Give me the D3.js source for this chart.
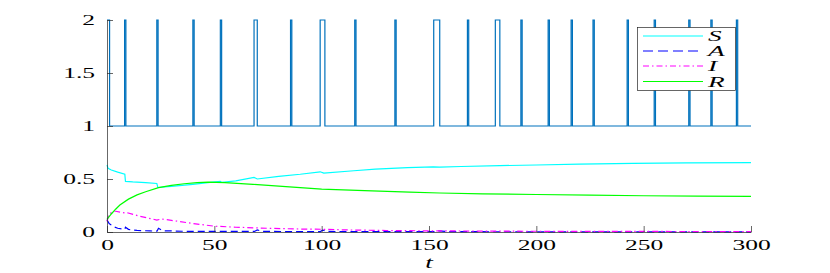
<!DOCTYPE html>
<html><head><meta charset="utf-8">
<script src="https://cdn.jsdelivr.net/npm/d3@7/dist/d3.min.js"></script>
<style>body{margin:0;background:#fff}svg{display:block}</style>
</head><body>
<script>
// ---- data ----
const xTicks = [0, 50, 100, 150, 200, 250, 300];
const yTicks = [0, 0.5, 1, 1.5, 2];
const yTickLabels = ["0", "0.5", "1", "1.5", "2"];
const seriesNames = ["S", "A", "I", "R"];

// switching signal: pulses to 2 between start/end times, otherwise 1
const pulseStart = [0, 8.2, 23.2, 40.0, 52.8, 68.5, 85.5, 99.3, 115.4, 134.1, 152.2, 167.9, 180.9, 192.8, 205.5, 216.2, 226.4, 242.3, 254.9, 271.0, 281.3, 293.2];
const pulseEnd   = [1.2, 8.8, 23.8, 40.6, 53.4, 70.0, 86.1, 101.5, 116.0, 134.7, 155.0, 168.5, 183.0, 193.4, 206.1, 216.8, 227.0, 242.9, 255.5, 271.6, 281.9, 293.8];

const tS = [0, 0.5, 2, 5, 8.3, 8.6, 12, 18, 23.2, 23.7, 30, 40, 48, 52.8, 53.5, 60, 68.5, 70, 80, 90, 99.3, 101, 115, 125, 140, 152, 155, 165, 183, 200, 220, 245, 270, 300];
const vS = [0.632, 0.60, 0.585, 0.565, 0.545, 0.478, 0.472, 0.465, 0.458, 0.42, 0.43, 0.45, 0.468, 0.478, 0.468, 0.482, 0.515, 0.50, 0.525, 0.545, 0.568, 0.555, 0.578, 0.593, 0.607, 0.615, 0.612, 0.618, 0.626, 0.632, 0.64, 0.648, 0.652, 0.654];

const tA = [0, 1, 3, 5, 8.3, 8.6, 10, 14, 20, 23.3, 24, 26, 35, 50, 68.7, 70, 72, 85, 99.4, 100.5, 103, 130, 153, 154, 160, 200, 250, 300];
const vA = [0.115, 0.08, 0.05, 0.035, 0.025, 0.045, 0.025, 0.015, 0.01, 0.008, 0.035, 0.012, 0.007, 0.005, 0.005, 0.02, 0.006, 0.004, 0.004, 0.018, 0.005, 0.003, 0.003, 0.012, 0.003, 0.002, 0.002, 0.002];

const tI = [0, 1, 3.5, 8.3, 8.8, 15, 23.2, 25.5, 30, 40, 50, 60, 75, 90, 100, 110, 130, 150, 180, 220, 260, 300];
const vI = [0.10, 0.17, 0.198, 0.18, 0.185, 0.15, 0.113, 0.123, 0.11, 0.08, 0.055, 0.045, 0.035, 0.028, 0.026, 0.02, 0.014, 0.011, 0.008, 0.006, 0.005, 0.004];

const tR = [0, 2, 4, 6, 10, 14, 18, 24, 30, 36, 42, 47, 55, 68, 85, 100, 120, 141, 155, 175, 200, 225, 250, 275, 300];
const vR = [0.12, 0.17, 0.215, 0.255, 0.31, 0.35, 0.38, 0.418, 0.44, 0.455, 0.465, 0.47, 0.466, 0.45, 0.425, 0.405, 0.39, 0.376, 0.368, 0.36, 0.354, 0.347, 0.342, 0.338, 0.337];

// ---- layout ----
const W = 830, H = 273;
const mLeft = 107, mRight = 751, mTop = 20, mBottom = 232;
const SX = 1.7; // horizontal stretch of text
const axisColor = "#262626";
const font = "'Liberation Serif', 'DejaVu Serif', serif";

const svg = d3.select("body").append("svg").attr("width", W).attr("height", H);
const x = d3.scaleLinear().domain([0, 300]).range([mLeft, mRight]);
const y = d3.scaleLinear().domain([0, 2]).range([mBottom, mTop]);

// switching signal path
const sig = [];
sig.push([0, 2]);
sig.push([pulseEnd[0], 2]);
sig.push([pulseEnd[0], 1]);
for (let i = 1; i < pulseStart.length; i++) {
  sig.push([pulseStart[i], 1]);
  sig.push([pulseStart[i], 2]);
  sig.push([pulseEnd[i], 2]);
  sig.push([pulseEnd[i], 1]);
}
sig.push([300, 1]);
const line = d3.line().x(d => x(d[0])).y(d => y(d[1]));
svg.append("path").attr("d", line(sig)).attr("fill", "none")
  .attr("stroke", "#0072BD").attr("stroke-width", 1.2);

const series = [
  {t: tS, v: vS, color: "#00FFFF", dash: null},
  {t: tA, v: vA, color: "#0000FF", dash: "7,4"},
  {t: tI, v: vI, color: "#FF00FF", dash: "6,3,1.5,3"},
  {t: tR, v: vR, color: "#00FF00", dash: null}
];
series.forEach(s => {
  const pts = s.t.map((t, i) => [t, s.v[i]]);
  const p = svg.append("path").attr("d", line(pts)).attr("fill", "none")
    .attr("stroke", s.color).attr("stroke-width", 1.2);
  if (s.dash) p.attr("stroke-dasharray", s.dash);
});

// axes
const yAxis = d3.axisLeft(y).tickValues(yTicks).tickFormat((d, i) => yTickLabels[i])
  .tickSizeInner(-6).tickSizeOuter(0).tickPadding(12);
const gy = svg.append("g").attr("transform", `translate(${mLeft},0)`).call(yAxis);
const xAxis = d3.axisBottom(x).tickValues(xTicks).tickFormat(d3.format("d"))
  .tickSizeInner(-6).tickSizeOuter(0).tickPadding(7);
const gx = svg.append("g").attr("transform", `translate(0,${mBottom})`).call(xAxis);
[gx, gy].forEach(g => {
  g.select(".domain").attr("stroke", axisColor).attr("stroke-width", 0.7);
  g.selectAll(".tick line").attr("stroke", axisColor).attr("stroke-width", 0.7);
  g.selectAll(".tick text").attr("fill", "#000").style("font-family", font).style("font-size", "15px");
});
gy.selectAll(".tick text").each(function () {
  const t = d3.select(this);
  const xx = +t.attr("x");
  t.attr("x", xx / SX).attr("transform", `scale(${SX},1)`);
});
gx.selectAll(".tick text").attr("transform", `scale(${SX},1)`);

// x label
svg.append("text").attr("transform", `translate(${(mLeft + mRight) / 2},268) scale(${SX},1)`)
  .attr("text-anchor", "middle").style("font-family", font).style("font-style", "italic")
  .style("font-size", "16px").text("t");

// legend
const lg = svg.append("g");
lg.append("rect").attr("x", 637.5).attr("y", 27.5).attr("width", 98).attr("height", 63)
  .attr("fill", "#fff").attr("stroke", axisColor).attr("stroke-width", 0.7);
const rowY = [36, 51, 66, 81.5];
series.forEach((s, i) => {
  const l = lg.append("line").attr("x1", 643).attr("x2", 703).attr("y1", rowY[i]).attr("y2", rowY[i])
    .attr("stroke", s.color).attr("stroke-width", 1.2);
  if (s.dash) l.attr("stroke-dasharray", s.dash === "7,4" ? "10,5" : "6,3,1.5,3");
  lg.append("text").attr("transform", `translate(708,${rowY[i] + 5}) scale(2.1,1.1)`)
    .style("font-family", font).style("font-style", "italic").style("font-size", "13px")
    .text(seriesNames[i]);
});
</script>
</body></html>
